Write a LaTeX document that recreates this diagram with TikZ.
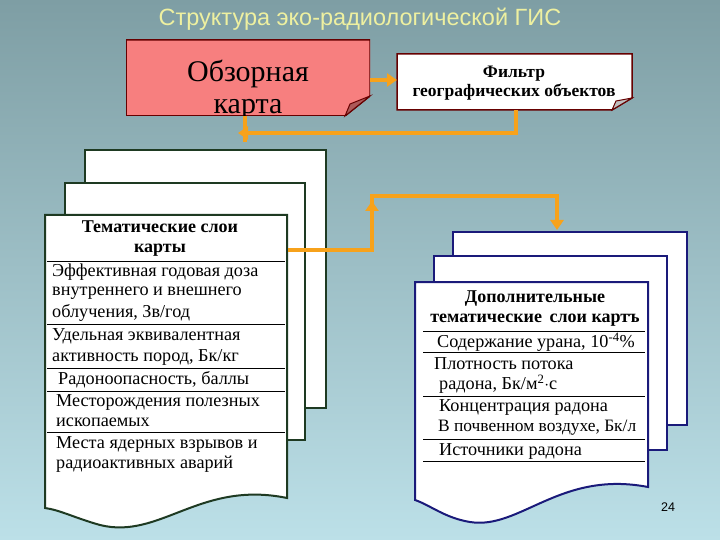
\documentclass[tikz,border=0pt]{standalone}
\usepackage{fontspec}
\setmainfont{Liberation Serif}
\newfontfamily\titlefont{Liberation Sans}
\usetikzlibrary{arrows.meta}
\definecolor{bgtop}{HTML}{7E9EA4}
\definecolor{bgbot}{HTML}{BCE0E8}
\definecolor{redbox}{HTML}{F77F7F}
\definecolor{org}{HTML}{F7A21B}
\definecolor{ttl}{HTML}{EEF0A0}
\definecolor{gborder}{HTML}{1E3A22}
\definecolor{bborder}{HTML}{1A1A7A}
\tikzset{
 conn/.style={draw=org,line width=4pt},
 tip/.style={-{Triangle[length=10pt,width=13pt]}},
 rowtxt/.style={anchor=west,inner sep=0,font=\fontsize{18.2}{20}\selectfont},
 headtxt/.style={inner sep=0,font=\bfseries\fontsize{18}{20}\selectfont},
 sep/.style={line width=0.8pt},
 page/.style={fill=white,line width=2pt},
}
\begin{document}
\begin{tikzpicture}[x=1pt,y=-1pt]
\shade[top color=bgtop,bottom color=bgbot] (0,0) rectangle (720,540);
\useasboundingbox (0,0) rectangle (720,540);
\node[text=ttl,font=\titlefont\fontsize{23.5}{26}\selectfont] (title) at (360,19) {Структура эко-радиологической ГИС};
% overview map
\begin{scope}
\clip (126,40) rectangle (370,116);
\draw[fill=redbox,draw=red!40!black,line width=1.5pt] (126,40) -- (370,40) -- (370,96) -- (345,116) -- (126,116) -- cycle;
\node[font=\fontsize{30}{34}\selectfont,align=center,inner sep=0] (map) at (248,90) {Обзорная\\[-2pt]карта};
\end{scope}
\draw[fill=redbox!70!black,draw=red!40!black,line width=1pt] (345,116) -- (350,104) -- (370,96) -- cycle;
\coordinate (mapR) at (370,80);
\coordinate (mapB) at (245,116);
% filter
\draw[fill=white,draw=red!40!black,line width=1.5pt] (397,54) -- (632,54) -- (632,98) -- (612,110) -- (397,110) -- cycle;
\draw[fill=gray!50,draw=red!40!black,line width=1pt] (612,110) -- (616,101) -- (632,98) -- cycle;
\node[inner sep=0,font=\bfseries\fontsize{17.5}{19}\selectfont,align=center] (filt) at (514,83) {Фильтр\\географических объектов};
\coordinate (filtL) at (397,80);
\coordinate (filtB) at (516,110);
\draw[conn,tip] (mapR) -- (filtL);
\draw[conn] (filtB) -- (516,133) -- (252,133);
\draw[conn,tip] (300,133) -- (238,133);
\draw[conn] (mapB) -- (245,142);
% left documents
\draw[page,draw=gborder] (85,150) rectangle (326,408);
\draw[page,draw=gborder] (65,183) rectangle (305,440);
\draw[page,draw=gborder] (45,215) -- (287,215) -- (287,498) .. controls (200,480) and (160,540) .. (100,525) .. controls (75,518) and (60,510) .. (45,508) -- cycle;
\node[headtxt,align=center] (lhead) at (160,239) {Тематические слои\\карты};
\foreach \y in {261,324,368,391,432} \draw[sep] (47,\y) -- (285,\y);
\node[rowtxt] (l1) at (52,272) {Эффективная годовая доза};
\node[rowtxt] at (52,293) {внутреннего и внешнего};
\node[rowtxt] at (52,313) {облучения, Зв/год};
\node[rowtxt] (l2) at (52,336) {Удельная эквивалентная};
\node[rowtxt] at (52,357) {активность пород, Бк/кг};
\node[rowtxt] (l3) at (58,380) {Радоноопасность, баллы};
\node[rowtxt] (l4) at (56,402) {Месторождения полезных};
\node[rowtxt] at (56,422) {ископаемых};
\node[rowtxt] (l5) at (56,444) {Места ядерных взрывов и};
\node[rowtxt] at (56,464) {радиоактивных аварий};
\coordinate (lR) at (288,250);
% right documents
\draw[page,draw=bborder] (453,232) rectangle (687,425);
\draw[page,draw=bborder] (434,256) rectangle (667,450);
\draw[page,draw=bborder] (415,282) -- (648,282) -- (648,487) .. controls (560,470) and (520,530) .. (470,522) .. controls (445,518) and (430,505) .. (415,500) -- cycle;
\coordinate (rT) at (557,230);
\node[headtxt,align=center] (rhead) at (535,309) {Дополнительные\\тематические\, слои картъ};
\foreach \y in {331,352,396,439,461} \draw[sep] (423,\y) -- (645,\y);
\node[rowtxt] (r1) at (437,342) {Содержание урана, 10\textsuperscript{-4}\%};
\node[rowtxt] (r2) at (434,364) {Плотность потока};
\node[rowtxt] at (439,384) {радона, Бк/м\textsuperscript{2}$\cdot$с};
\node[rowtxt] (r3) at (439,407) {Концентрация радона};
\node[rowtxt,font=\fontsize{17.4}{20}\selectfont] at (438,428) {В почвенном воздухе, Бк/л};
\node[rowtxt] (r4) at (439,451) {Источники радона};
\draw[conn] (lR) -- (372,250) -- (372,214);
\draw[conn,tip] (372,222) -- (372,201);
\draw[conn] (372,206) -- (372,196) -- (557,196) -- (557,220);
\draw[conn,tip] (557,212) -- (rT);
\node[font=\titlefont\fontsize{12.5}{14}\selectfont] (pg) at (668,507) {24};
\end{tikzpicture}
\end{document}
